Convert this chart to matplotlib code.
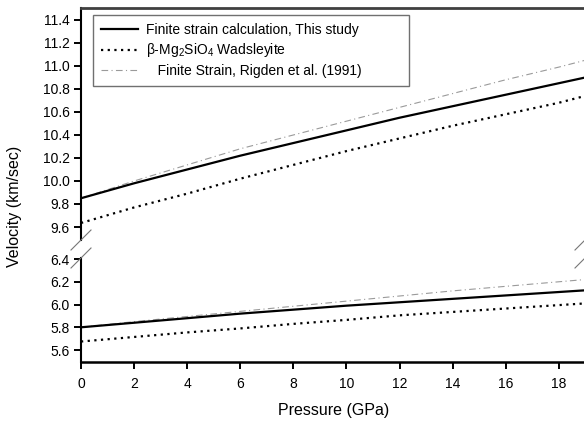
import numpy as np
import matplotlib
matplotlib.use('Agg')
import matplotlib.pyplot as plt
from matplotlib.lines import Line2D

plt.rcParams['font.family'] = ['Liberation Sans', 'DejaVu Sans']
plt.rcParams['mathtext.fontset'] = 'custom'
plt.rcParams['mathtext.rm'] = 'Liberation Sans'
plt.rcParams['mathtext.default'] = 'regular'

# pressure (GPa)
pressure = [0, 2, 4, 6, 8, 10, 12, 14, 16, 18, 19]

# upper branch (Vp)
vp_this = [9.85, 9.98, 10.10, 10.22, 10.33, 10.44, 10.55, 10.65, 10.75, 10.85, 10.90]
vp_wads = [9.635, 9.77, 9.89, 10.02, 10.14, 10.26, 10.37, 10.48, 10.58, 10.68, 10.74]
vp_rigden = [9.85, 10.00, 10.14, 10.28, 10.40, 10.52, 10.64, 10.76, 10.88, 10.99, 11.05]

# lower branch (Vs)
vs_this = [5.80, 5.84, 5.88, 5.92, 5.955, 5.99, 6.02, 6.05, 6.08, 6.11, 6.125]
vs_wads = [5.675, 5.715, 5.755, 5.79, 5.83, 5.865, 5.905, 5.935, 5.965, 5.995, 6.01]
vs_rigden = [5.80, 5.85, 5.895, 5.94, 5.985, 6.03, 6.075, 6.12, 6.16, 6.20, 6.22]

labels = ['Finite strain calculation, This study',
          r'β-Mg$_2$SiO$_4$ Wadsleyite',
          '   Finite Strain, Rigden et al. (1991)']

W, H = 584, 422
fig = plt.figure(figsize=(W / 100, H / 100), dpi=100)

x0, x1 = 81, 584
ax_top = fig.add_axes([x0 / W, 1 - 240 / H, (x1 - x0) / W, (240 - 8) / H])
ax_bot = fig.add_axes([x0 / W, 1 - 362 / H, (x1 - x0) / W, (362 - 258) / H])

solid = dict(color='black', lw=1.6, ls='-')
dots = dict(color='black', lw=1.6, ls=(0, (1, 2)), dash_capstyle='butt')
gray = dict(color='#9a9a9a', lw=0.8, ls=(0, (6, 3, 1, 3)))

for ax, a, b, c in [(ax_top, vp_this, vp_wads, vp_rigden),
                    (ax_bot, vs_this, vs_wads, vs_rigden)]:
    ax.plot(pressure, c, label=labels[2], **gray)
    ax.plot(pressure, b, label=labels[1], **dots)
    ax.plot(pressure, a, label=labels[0], **solid)
    ax.set_xlim(0, 18.95)
    ax.spines['right'].set_visible(False)
    ax.spines['left'].set_linewidth(1.5)
    ax.tick_params(direction='out', length=5, width=1.4, labelsize=10, pad=3)

ax_top.set_ylim(9.487, 11.504)
ax_top.set_yticks(np.arange(9.6, 11.45, 0.2))
ax_top.set_yticklabels(['%.1f' % v for v in np.arange(9.6, 11.45, 0.2)])
ax_top.spines['bottom'].set_visible(False)
ax_top.spines['top'].set_linewidth(2)
ax_top.spines['top'].set_color('#404040')
ax_top.tick_params(axis='x', bottom=False, labelbottom=False)

ax_bot.set_ylim(5.495, 6.409)
ax_bot.set_yticks([5.6, 5.8, 6.0, 6.2, 6.4])
ax_bot.set_yticklabels(['5.6', '5.8', '6.0', '6.2', '6.4'])
ax_bot.set_xticks(range(0, 19, 2))
ax_bot.spines['top'].set_visible(False)
ax_bot.spines['bottom'].set_linewidth(1.8)
ax_bot.tick_params(axis='x', pad=6)

# axis break marks
for cx in (81, 585):
    for cy in (240, 258):
        fig.add_artist(Line2D([(cx - 10) / W, (cx + 10) / W],
                              [1 - (cy + 10) / H, 1 - (cy - 10) / H],
                              color='#777777', lw=0.8))

h, l = ax_top.get_legend_handles_labels()
leg = ax_top.legend(h[::-1], l[::-1], loc='upper left',
                    bbox_to_anchor=(0.024, 0.0, 0.628, 0.97), mode='expand',
                    fontsize=10, handlelength=2.6, labelspacing=0.3,
                    borderpad=0.6, handletextpad=0.6, borderaxespad=0,
                    fancybox=False, framealpha=1, edgecolor='#707070')
leg.get_frame().set_linewidth(1.0)

fig.text(334 / W, 1 - 410 / H, 'Pressure (GPa)', ha='center', va='center', fontsize=11.5)
fig.text(15 / W, 1 - 206 / H, 'Velocity (km/sec)', ha='center', va='center',
         rotation=90, fontsize=11.5)

fig.savefig('out.png', dpi=100)
